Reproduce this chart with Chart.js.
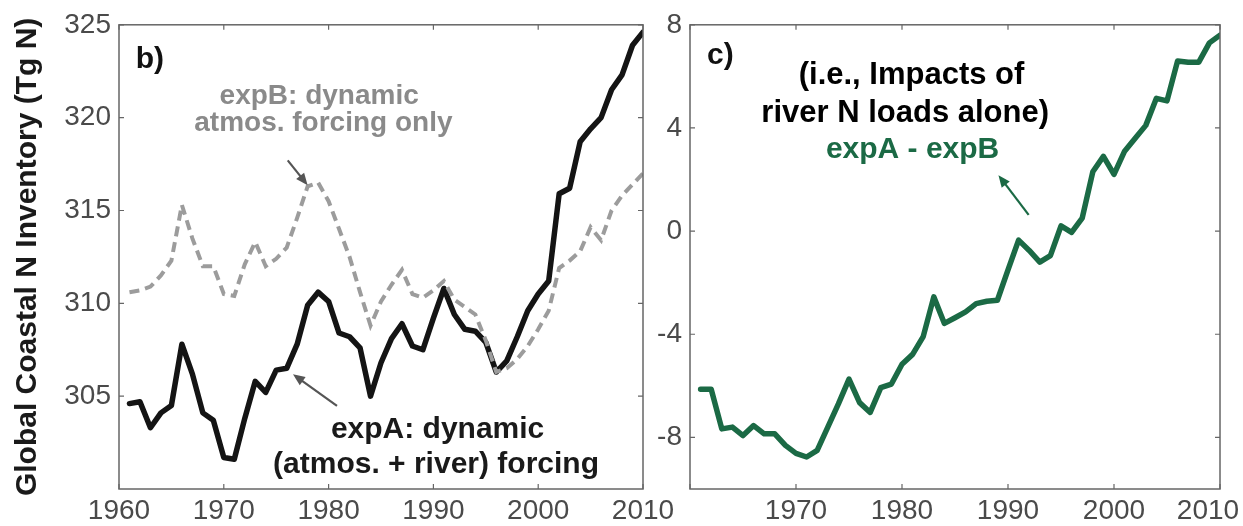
<!DOCTYPE html>
<html>
<head>
<meta charset="utf-8">
<script src="https://cdn.jsdelivr.net/npm/chart.js@4.4.0/dist/chart.umd.min.js"></script>
<style>
  html, body { margin: 0; padding: 0; background: #fff; overflow: hidden; }
  #wrap { position: relative; width: 1243px; height: 526px; }
  #boxB { position: absolute; left: 0; top: 0; width: 680px; height: 526px; }
  #boxC { position: absolute; left: 650px; top: 0; width: 593px; height: 526px; }
</style>
</head>
<body>
<div id="wrap">
  <div id="boxB"><canvas id="chartB"></canvas></div>
  <div id="boxC"><canvas id="chartC"></canvas></div>
</div>
<script>
const years = [1961, 1962, 1963, 1964, 1965, 1966, 1967, 1968, 1969, 1970,
               1971, 1972, 1973, 1974, 1975, 1976, 1977, 1978, 1979, 1980,
               1981, 1982, 1983, 1984, 1985, 1986, 1987, 1988, 1989, 1990,
               1991, 1992, 1993, 1994, 1995, 1996, 1997, 1998, 1999, 2000,
               2001, 2002, 2003, 2004, 2005, 2006, 2007, 2008, 2009, 2010];

// expA: dynamic (atmos. + river) forcing
const expA = [304.6, 304.7, 303.3, 304.1, 304.5, 307.8, 306.2, 304.1, 303.7, 301.7,
              301.6, 303.8, 305.8, 305.2, 306.4, 306.5, 307.8, 309.9, 310.6, 310.1,
              308.4, 308.2, 307.6, 305.0, 306.8, 308.1, 308.9, 307.7, 307.5, 309.2,
              310.8, 309.4, 308.6, 308.5, 307.9, 306.3, 306.9, 308.2, 309.6, 310.5,
              311.2, 315.9, 316.2, 318.7, 319.4, 320.0, 321.5, 322.3, 323.9, 324.6];

// expB: dynamic atmos. forcing only
const expB = [310.6, 310.7, 310.9, 311.5, 312.3, 315.3, 313.5, 312.0, 312.0, 310.5,
              310.4, 312.1, 313.3, 312.0, 312.4, 313.0, 314.6, 316.3, 316.5, 315.5,
              314.0, 312.5, 310.6, 308.8, 310.1, 311.0, 311.8, 310.5, 310.3, 310.7,
              311.2, 310.2, 309.8, 309.4, 308.0, 306.3, 306.5, 307.0, 307.7, 308.6,
              309.6, 311.9, 312.3, 312.8, 314.1, 313.4, 315.0, 315.8, 316.4, 317.0];

// expA - expB
const diffAB = [-6.13, -6.13, -7.67, -7.6, -7.93, -7.54, -7.86, -7.86, -8.31, -8.62,
                -8.76, -8.5, -7.6, -6.7, -5.74, -6.65, -7.03, -6.07, -5.93, -5.16,
                -4.78, -4.09, -2.55, -3.58, -3.36, -3.13, -2.81, -2.72, -2.68, -1.5,
                -0.35, -0.75, -1.2, -0.95, 0.2, -0.05, 0.5, 2.3, 2.9, 2.2,
                3.1, 3.6, 4.1, 5.15, 5.05, 6.6, 6.55, 6.55, 7.3, 7.6];

const xTicks = [1960, 1970, 1980, 1990, 2000, 2010];
const yTicksB = [305, 310, 315, 320, 325];
const yTicksC = [-8, -4, 0, 4, 8];

const FONT = "'Liberation Sans', Arial, Helvetica, sans-serif";
const TICK_SIZE = 28;
const TICK_PAD_X = 5;

const toPoints = (vals) => years.map((yr, i) => ({x: yr, y: vals[i]}));

// box around the axes with inward tick marks on all four sides, plus text notes
const boxAndNotes = {
  id: 'notes',
  afterDatasetsDraw(chart, args, opts) {
    const {ctx, chartArea: a, scales: {x, y}} = chart;
    ctx.save();
    ctx.strokeStyle = '#666';
    ctx.lineWidth = 1.5;
    ctx.strokeRect(a.left, a.top, a.right - a.left, a.bottom - a.top);
    ctx.lineWidth = 1.2;
    ctx.beginPath();
    x.ticks.forEach(t => {
      const px = x.getPixelForValue(t.value);
      ctx.moveTo(px, a.bottom); ctx.lineTo(px, a.bottom - 5);
      ctx.moveTo(px, a.top); ctx.lineTo(px, a.top + 5);
    });
    y.ticks.forEach(t => {
      const py = y.getPixelForValue(t.value);
      ctx.moveTo(a.left, py); ctx.lineTo(a.left + 5, py);
      ctx.moveTo(a.right, py); ctx.lineTo(a.right - 5, py);
    });
    ctx.stroke();

    (opts.texts || []).forEach(t => {
      ctx.font = `bold ${t.size}px ${FONT}`;
      ctx.fillStyle = t.color;
      ctx.textAlign = t.align || 'center';
      ctx.textBaseline = 'alphabetic';
      ctx.fillText(t.text, x.getPixelForValue(t.x), y.getPixelForValue(t.y));
    });

    (opts.arrows || []).forEach(ar => {
      const x0 = x.getPixelForValue(ar.from[0]), y0 = y.getPixelForValue(ar.from[1]);
      const x1 = x.getPixelForValue(ar.to[0]), y1 = y.getPixelForValue(ar.to[1]);
      const ang = Math.atan2(y1 - y0, x1 - x0);
      const head = 13;
      ctx.strokeStyle = ar.color;
      ctx.fillStyle = ar.color;
      ctx.lineWidth = 2.2;
      ctx.beginPath();
      ctx.moveTo(x0, y0);
      ctx.lineTo(x1 - Math.cos(ang) * head * 0.8, y1 - Math.sin(ang) * head * 0.8);
      ctx.stroke();
      ctx.beginPath();
      ctx.moveTo(x1, y1);
      ctx.lineTo(x1 - head * Math.cos(ang - 0.4), y1 - head * Math.sin(ang - 0.4));
      ctx.lineTo(x1 - head * Math.cos(ang + 0.4), y1 - head * Math.sin(ang + 0.4));
      ctx.closePath();
      ctx.fill();
    });

    // last x label of panel c sits a little left of its tick, as in the source figure
    (opts.extraXLabels || []).forEach(l => {
      ctx.font = `${TICK_SIZE}px ${FONT}`;
      ctx.fillStyle = '#4a4a4a';
      ctx.textAlign = 'center';
      ctx.textBaseline = 'middle';
      ctx.fillText(String(l.value), x.getPixelForValue(l.value) + l.shift,
                   x.top + TICK_PAD_X + TICK_SIZE * 1.2 / 2);
    });
    ctx.restore();
  }
};

function makeOptions(cfg) {
  return {
    responsive: true,
    maintainAspectRatio: false,
    animation: false,
    events: [],
    layout: {padding: cfg.padding},
    plugins: {
      legend: {display: false},
      tooltip: {enabled: false},
      notes: cfg.notes
    },
    scales: {
      x: {
        type: 'linear',
        min: 1960,
        max: 2010,
        grid: {display: false, drawTicks: false},
        border: {display: false},
        afterBuildTicks: s => { s.ticks = xTicks.map(v => ({value: v})); },
        afterFit: s => { s.height = 37; },
        ticks: {
          padding: TICK_PAD_X,
          autoSkip: false,
          maxRotation: 0,
          color: '#4a4a4a',
          font: {family: FONT, size: TICK_SIZE},
          callback: v => (cfg.hideX.includes(v) ? '' : String(v))
        }
      },
      y: {
        min: cfg.yMin,
        max: cfg.yMax,
        grid: {display: false, drawTicks: false},
        border: {display: false},
        afterBuildTicks: s => { s.ticks = cfg.yTicks.map(v => ({value: v})); },
        afterFit: s => { s.width = cfg.yWidth; },
        ticks: {
          padding: 8,
          color: '#4a4a4a',
          font: {family: FONT, size: TICK_SIZE},
          callback: v => String(v)
        },
        title: {
          display: !!cfg.yTitle,
          text: cfg.yTitle || '',
          color: '#1a1a1a',
          font: {family: FONT, size: 30, weight: 'bold'},
          padding: {top: 10, bottom: 0}
        }
      }
    }
  };
}

new Chart(document.getElementById('chartB'), {
  type: 'line',
  data: {
    datasets: [
      {
        label: 'expB',
        data: toPoints(expB),
        borderColor: '#9c9c9c',
        borderWidth: 4,
        borderDash: [10, 6],
        pointRadius: 0,
        tension: 0
      },
      {
        label: 'expA',
        data: toPoints(expA),
        borderColor: '#141414',
        borderWidth: 5.5,
        borderJoinStyle: 'round',
        borderCapStyle: 'round',
        pointRadius: 0,
        tension: 0
      }
    ]
  },
  options: makeOptions({
    padding: {left: 0, right: 37, top: 20, bottom: 0},
    yMin: 300, yMax: 325, yTicks: yTicksB, yWidth: 119,
    yTitle: 'Global Coastal N Inventory (Tg N)',
    hideX: [],
    notes: {
      texts: [
        {text: 'b)', x: 1961.6, y: 322.7, size: 30, color: '#111', align: 'left'},
        {text: 'expB: dynamic', x: 1979.1, y: 320.74, size: 28, color: '#8a8a8a'},
        {text: 'atmos. forcing only', x: 1979.5, y: 319.3, size: 28, color: '#8a8a8a'},
        {text: 'expA: dynamic', x: 1990.4, y: 302.77, size: 30, color: '#1a1a1a'},
        {text: '(atmos. + river) forcing', x: 1990.25, y: 300.85, size: 30, color: '#1a1a1a'}
      ],
      arrows: [
        {from: [1976.1, 317.7], to: [1978.0, 316.36], color: '#555'},
        {from: [1980.8, 304.48], to: [1976.6, 306.18], color: '#555'}
      ]
    }
  }),
  plugins: [boxAndNotes]
});

new Chart(document.getElementById('chartC'), {
  type: 'line',
  data: {
    datasets: [
      {
        label: 'expA - expB',
        data: toPoints(diffAB),
        borderColor: '#1b6a45',
        borderWidth: 5.5,
        borderJoinStyle: 'round',
        borderCapStyle: 'round',
        pointRadius: 0,
        tension: 0
      }
    ]
  },
  options: makeOptions({
    padding: {left: 0, right: 23, top: 20, bottom: 0},
    yMin: -10, yMax: 8, yTicks: yTicksC, yWidth: 40,
    yTitle: null,
    hideX: [1960, 2010],
    notes: {
      texts: [
        {text: 'c)', x: 1961.6, y: 6.47, size: 30, color: '#111', align: 'left'},
        {text: '(i.e., Impacts of', x: 1980.9, y: 5.70, size: 31, color: '#000'},
        {text: 'river N loads alone)', x: 1980.3, y: 4.24, size: 31, color: '#000'},
        {text: 'expA - expB', x: 1981.0, y: 2.82, size: 30, color: '#1b6a45'}
      ],
      arrows: [
        {from: [1991.95, 0.63], to: [1989.1, 2.17], color: '#1b6a45'}
      ],
      extraXLabels: [{value: 2010, shift: -12}]
    }
  }),
  plugins: [boxAndNotes]
});
</script>
</body>
</html>
